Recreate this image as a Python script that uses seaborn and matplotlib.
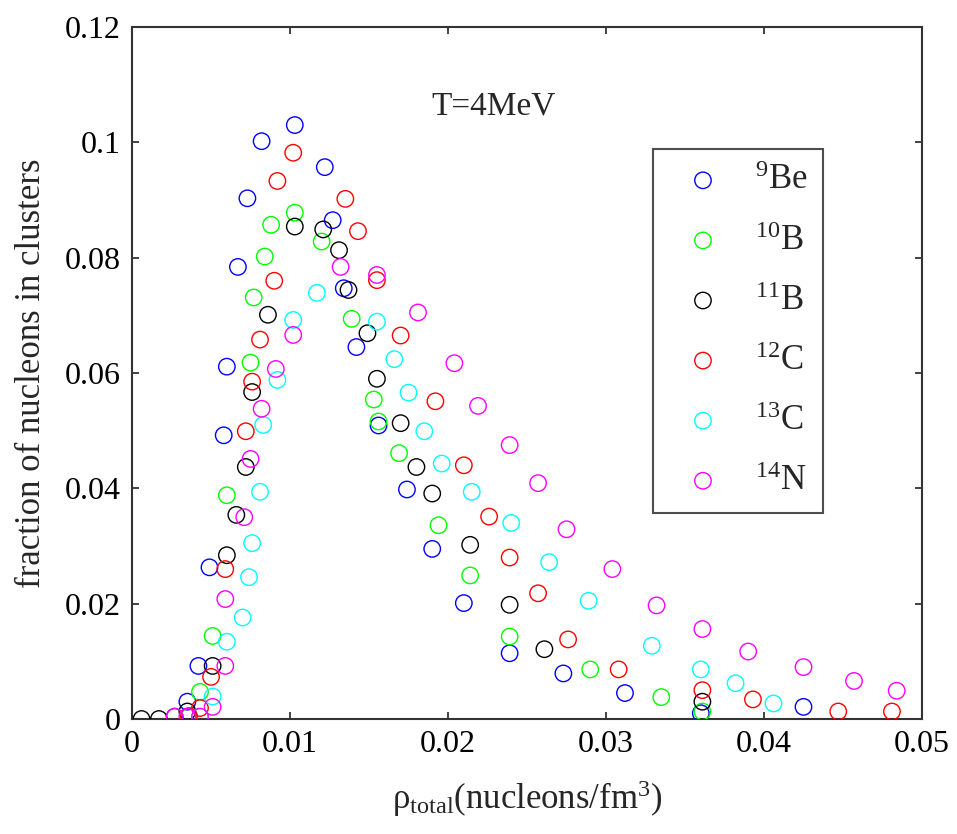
import numpy as np
import pandas as pd
import matplotlib
matplotlib.use("Agg")
import matplotlib.pyplot as plt
import seaborn as sns

# ---- data ----
be9_x = [0.0027, 0.0035, 0.0042, 0.0049, 0.0058, 0.0060, 0.0067, 0.0073, 0.0082, 0.0103, 0.0122, 0.0127,
         0.0134, 0.0142, 0.0156, 0.0174, 0.0190, 0.0210, 0.0239, 0.0273, 0.0312, 0.0360, 0.0425]
be9_y = [0.0004, 0.0030, 0.0092, 0.0263, 0.0492, 0.0611, 0.0784, 0.0903, 0.1002, 0.1030, 0.0957, 0.0865,
         0.0747, 0.0645, 0.0509, 0.0398, 0.0295, 0.0201, 0.0114, 0.0079, 0.0045, 0.0010, 0.0021]

b10_x = [0.0036, 0.0043, 0.0051, 0.0060, 0.0075, 0.0077, 0.0084, 0.0088, 0.0103, 0.0120, 0.0139, 0.0153,
         0.0156, 0.0169, 0.0194, 0.0214, 0.0239, 0.0290, 0.0335, 0.0361]
b10_y = [0.0004, 0.0047, 0.0144, 0.0388, 0.0618, 0.0731, 0.0802, 0.0857, 0.0878, 0.0828, 0.0694, 0.0554,
         0.0516, 0.0461, 0.0336, 0.0249, 0.0143, 0.0086, 0.0038, 0.0013]

b11_x = [0.0006, 0.0017, 0.0035, 0.0051, 0.0060, 0.0066, 0.0072, 0.0076, 0.0086, 0.0103, 0.0121, 0.0131,
         0.0137, 0.0149, 0.0155, 0.0170, 0.0180, 0.0190, 0.0214, 0.0239, 0.0261, 0.0361]
b11_y = [0.0000, 0.0000, 0.0013, 0.0092, 0.0284, 0.0354, 0.0437, 0.0567, 0.0701, 0.0854, 0.0849, 0.0813,
         0.0744, 0.0669, 0.0590, 0.0513, 0.0437, 0.0391, 0.0302, 0.0198, 0.0121, 0.0030]

c12_x = [0.0036, 0.0043, 0.0050, 0.0059, 0.0072, 0.0076, 0.0081, 0.0090, 0.0092, 0.0102, 0.0135, 0.0143,
         0.0155, 0.0170, 0.0192, 0.0210, 0.0226, 0.0239, 0.0257, 0.0276, 0.0308, 0.0361, 0.0393, 0.0447, 0.0481]
c12_y = [0.0005, 0.0019, 0.0073, 0.0260, 0.0499, 0.0585, 0.0658, 0.0760, 0.0933, 0.0982, 0.0902, 0.0846,
         0.0761, 0.0665, 0.0551, 0.0440, 0.0351, 0.0280, 0.0218, 0.0138, 0.0086, 0.0050, 0.0034, 0.0013, 0.0013]

c13_x = [0.0043, 0.0051, 0.0060, 0.0070, 0.0074, 0.0076, 0.0081, 0.0083, 0.0092, 0.0102, 0.0117, 0.0155,
         0.0166, 0.0175, 0.0185, 0.0196, 0.0215, 0.0240, 0.0264, 0.0289, 0.0329, 0.0360, 0.0382, 0.0406]
c13_y = [0.0004, 0.0039, 0.0134, 0.0176, 0.0246, 0.0305, 0.0394, 0.0510, 0.0588, 0.0692, 0.0739, 0.0689,
         0.0624, 0.0566, 0.0499, 0.0443, 0.0394, 0.0340, 0.0272, 0.0205, 0.0127, 0.0086, 0.0062, 0.0027]

n14_x = [0.0027, 0.0035, 0.0043, 0.0051, 0.0059, 0.0059, 0.0071, 0.0075, 0.0082, 0.0091, 0.0102, 0.0132,
         0.0155, 0.0181, 0.0204, 0.0219, 0.0239, 0.0257, 0.0275, 0.0304, 0.0332, 0.0361, 0.0390, 0.0425,
         0.0457, 0.0484]
n14_y = [0.0004, 0.0004, 0.0004, 0.0021, 0.0092, 0.0208, 0.0350, 0.0451, 0.0538, 0.0607, 0.0666, 0.0784,
         0.0770, 0.0705, 0.0617, 0.0543, 0.0475, 0.0409, 0.0329, 0.0260, 0.0197, 0.0156, 0.0117, 0.0090,
         0.0066, 0.0049]

series_labels = [r'$^{9}$Be', r'$^{10}$B', r'$^{11}$B', r'$^{12}$C', r'$^{13}$C', r'$^{14}$N']
series_colors = ['#0000ff', '#00ff00', '#000000', '#ff0000', '#00ffff', '#ff00ff']
series_x = [be9_x, b10_x, b11_x, c12_x, c13_x, n14_x]
series_y = [be9_y, b10_y, b11_y, c12_y, c13_y, n14_y]

x_ticks = [0, 0.01, 0.02, 0.03, 0.04, 0.05]
x_ticklabels = ['0', '0.01', '0.02', '0.03', '0.04', '0.05']
y_ticks = [0, 0.02, 0.04, 0.06, 0.08, 0.1, 0.12]
y_ticklabels = ['0', '0.02', '0.04', '0.06', '0.08', '0.1', '0.12']

# ---- style ----
sns.set_theme(style="white")
plt.rcParams['font.family'] = ['Liberation Serif', 'DejaVu Serif']
plt.rcParams['mathtext.fontset'] = 'custom'
plt.rcParams['mathtext.rm'] = 'Liberation Serif'
plt.rcParams['mathtext.it'] = 'Liberation Serif:italic'
plt.rcParams['mathtext.bf'] = 'Liberation Serif:bold'

fig = plt.figure(figsize=(9.57, 8.34), dpi=100)
ax = fig.add_axes([0.138, 0.1379, 0.8254, 0.8297])

frames = []
for lab, xs, ys in zip(series_labels, series_x, series_y):
    frames.append(pd.DataFrame({'rho': xs, 'frac': ys, 'nucleus': lab}))
df = pd.concat(frames, ignore_index=True)

for lab, col in zip(series_labels, series_colors):
    sub = df[df['nucleus'] == lab]
    sns.scatterplot(data=sub, x='rho', y='frac', ax=ax, color=col,
                    facecolors='none', edgecolor=col, linewidth=1.0,
                    s=140, marker='o', label=lab, zorder=3)

ax.set_xlim(0, 0.05)
ax.set_ylim(0, 0.12)
ax.set_xticks(x_ticks)
ax.set_xticklabels(x_ticklabels)
ax.set_yticks(y_ticks)
ax.set_yticklabels(y_ticklabels)
ax.tick_params(direction='in', length=5, width=1.2, colors='#222222',
               labelsize=23, labelcolor='black', top=True, right=True,
               bottom=True, left=True, pad=8)
for sp in ax.spines.values():
    sp.set_color('#333333')
    sp.set_linewidth(1.5)

ax.set_xlabel('ρ$_{\\mathrm{total}}$(nucleons/fm$^{3}$)', fontsize=25, labelpad=14)
ax.set_ylabel('fraction of nucleons in clusters', fontsize=25, labelpad=12)

ax.text(0.458, 0.885, 'T=4MeV', transform=ax.transAxes, fontsize=24,
        ha='center', va='center')

leg = ax.legend(loc='upper left', bbox_to_anchor=(0.659, 0.824), frameon=True,
                fancybox=False, fontsize=25, labelspacing=0.78, borderpad=0.45,
                handletextpad=0.5, borderaxespad=0, handlelength=2.0)
leg.get_frame().set_edgecolor('#222222')
leg.get_frame().set_linewidth(1.5)
leg.get_frame().set_facecolor('white')

fig.savefig('out.png', dpi=100)
